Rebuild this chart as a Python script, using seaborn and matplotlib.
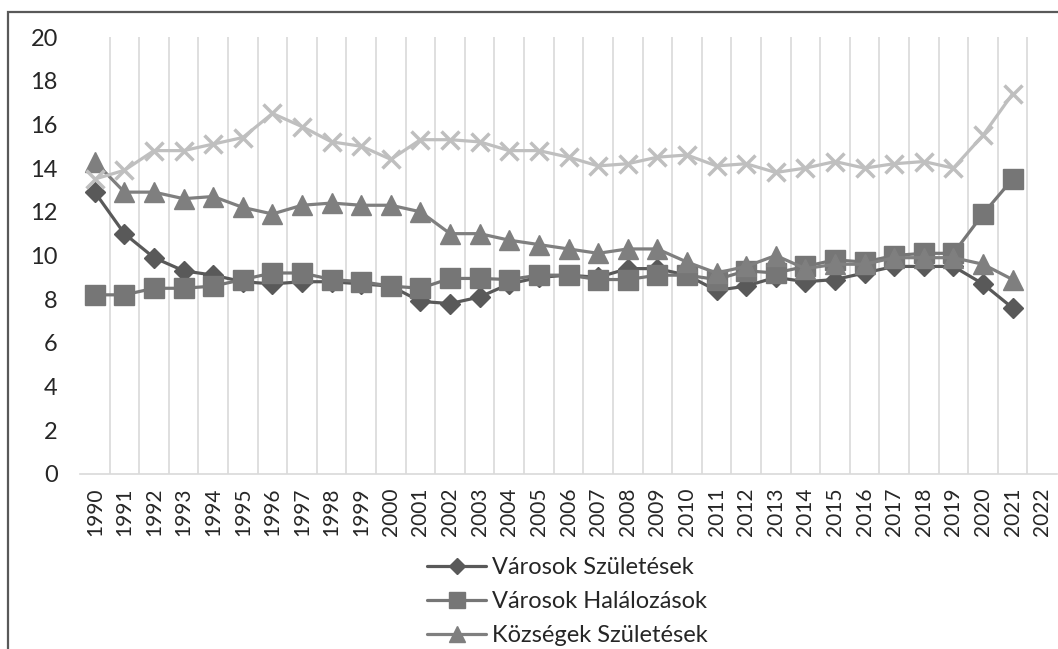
import numpy as np
import pandas as pd
import matplotlib
matplotlib.use('Agg')
import matplotlib.pyplot as plt
import matplotlib.patches as mpatches
import seaborn as sns

years = [str(y) for y in range(1990, 2023)]

varosok_szul = [12.9, 11.0, 9.9, 9.3, 9.1, 8.8, 8.7, 8.8, 8.8, 8.7, 8.6, 7.9, 7.8, 8.1,
                8.7, 9.0, 9.1, 9.0, 9.4, 9.4, 9.1, 8.4, 8.6, 9.0, 8.8, 8.9, 9.2, 9.5,
                9.5, 9.5, 8.7, 7.6]
varosok_hal = [8.2, 8.2, 8.5, 8.5, 8.6, 8.9, 9.2, 9.2, 8.9, 8.8, 8.6, 8.5, 8.95, 8.95,
               8.9, 9.1, 9.1, 8.9, 8.9, 9.1, 9.1, 8.9, 9.3, 9.2, 9.5, 9.8, 9.7, 10.0,
               10.1, 10.1, 11.9, 13.5]
kozsegek_szul = [14.3, 12.9, 12.9, 12.6, 12.7, 12.2, 11.9, 12.3, 12.4, 12.3, 12.3, 12.0,
                 11.0, 11.0, 10.7, 10.5, 10.3, 10.1, 10.3, 10.3, 9.7, 9.2, 9.5, 10.0,
                 9.4, 9.6, 9.6, 9.9, 9.9, 9.9, 9.6, 8.9]
kozsegek_hal = [13.5, 13.9, 14.8, 14.8, 15.1, 15.4, 16.5, 15.9, 15.2, 15.0, 14.4, 15.3,
                15.3, 15.2, 14.8, 14.8, 14.5, 14.1, 14.2, 14.5, 14.6, 14.1, 14.2, 13.8,
                14.0, 14.3, 14.0, 14.2, 14.3, 14.0, 15.5, 17.4]

series = [
    ('Városok Születések', varosok_szul, '#595959', 'D', 10),
    ('Városok Halálozások', varosok_hal, '#767676', 's', 14),
    ('Községek Születések', kozsegek_szul, '#7f7f7f', '^', 14),
    ('Községek Halálozások', kozsegek_hal, '#bfbfbf', 'x', 13),
]

sns.set_style('white')
plt.rcParams['font.family'] = ['Lato', 'DejaVu Sans']

W, H = 1058, 649
fig = plt.figure(figsize=(W / 100, H / 100), dpi=100)
ax = fig.add_axes([80 / W, 1 - 474 / H, 977 / W, 437 / H])

pos = np.arange(len(years))
for name, vals, col, mk, ms in series:
    df = pd.DataFrame({'x': pos[:len(vals)], 'y': vals})
    sns.lineplot(data=df, x='x', y='y', ax=ax, color=col, linewidth=2.3,
                 marker=mk, markersize=ms, markeredgecolor=col,
                 markeredgewidth=2.5 if mk == 'x' else 1, label=name, legend=False)

ax.set_xlim(-0.5, len(years) - 0.5)
ax.set_ylim(0, 20)
ax.set_yticks(range(0, 21, 2))
ax.set_xticks(pos)
ax.set_xticklabels(years, rotation=90, fontsize=15, color='#262626')
ax.set_xticks(pos[:-1] + 0.5, minor=True)
ax.grid(False)
ax.grid(True, which='minor', axis='x', color='#d9d9d9', linewidth=1.2)
ax.tick_params(axis='y', length=0, pad=16, labelsize=17, labelcolor='#262626')
ax.tick_params(axis='x', which='both', length=0, pad=10)
ax.set_xlabel('')
ax.set_ylabel('')
for s in ['left', 'right', 'top']:
    ax.spines[s].set_visible(False)
ax.spines['bottom'].set_color('#d9d9d9')
ax.spines['bottom'].set_linewidth(1.2)

# outer frame (cropped at right and bottom)
frame = mpatches.Rectangle((8 / W, -0.2), 1.2, (H - 12) / H + 0.2, transform=fig.transFigure,
                           fill=False, edgecolor='#595959', linewidth=1.6, zorder=0)
fig.patches.append(frame)

handles, labels = ax.get_legend_handles_labels()
fig.legend(handles[:3], labels[:3], loc='upper left', bbox_to_anchor=(427 / W, 1 - 557 / H),
           frameon=False, fontsize=17, handlelength=2.5, handletextpad=0.25,
           labelspacing=0.55, markerscale=0.8, borderpad=0, borderaxespad=0,
           labelcolor='#262626')

plt.savefig('out.png', dpi=100)
